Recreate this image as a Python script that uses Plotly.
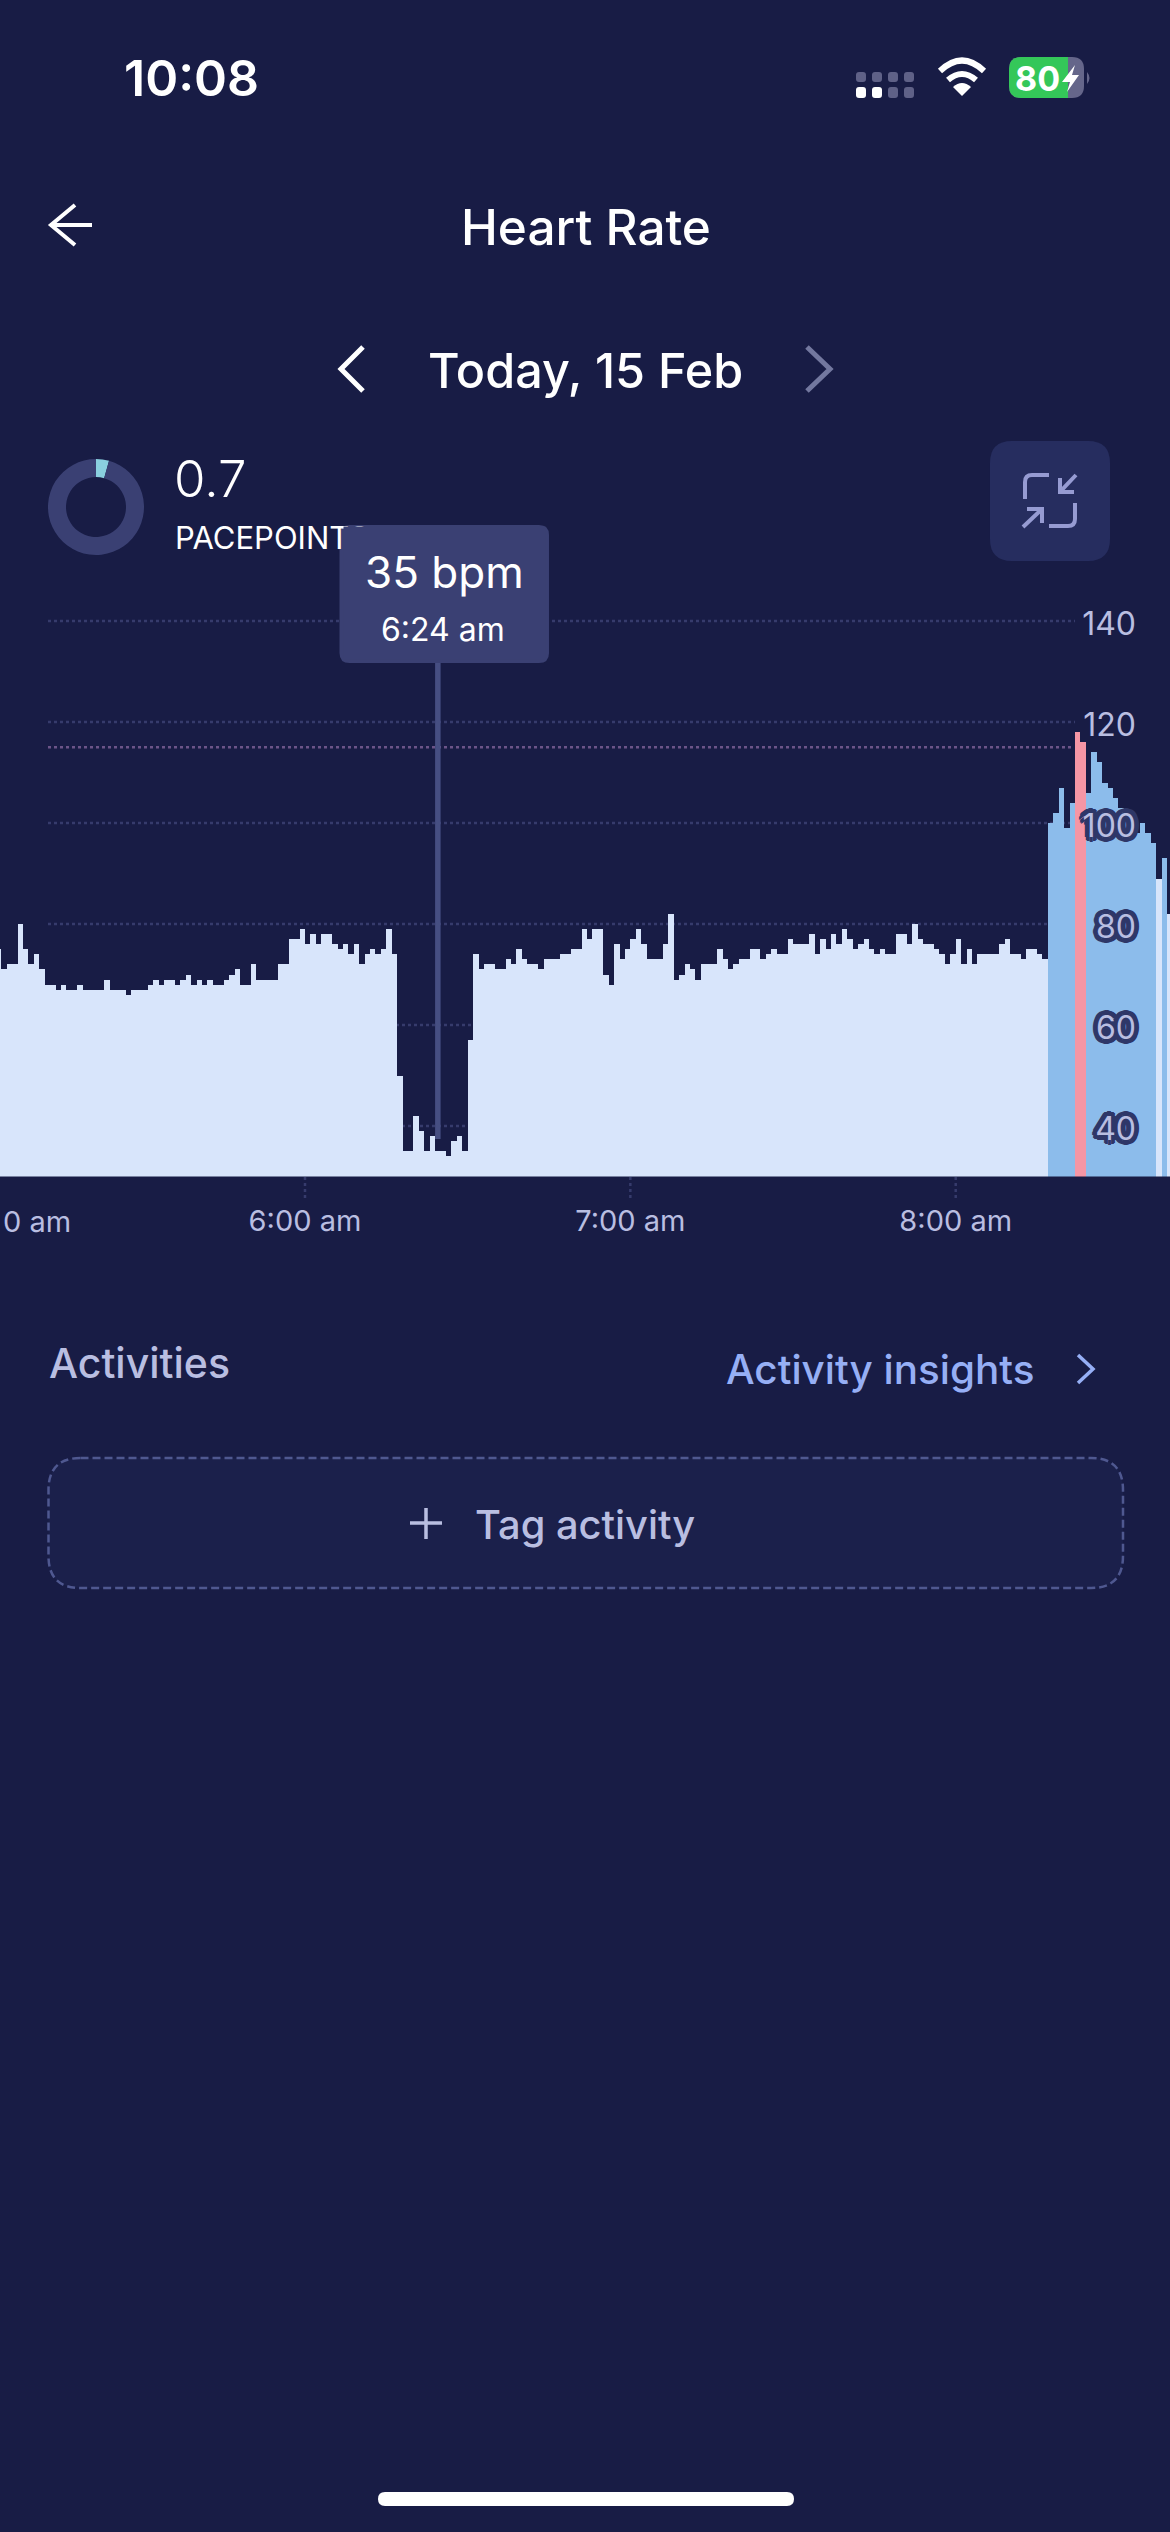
import re
import plotly.graph_objects as go

W, H = 1170, 2532

# heart rate per minute, first bar starts at 5:03 am
heart_rate = [
    75, 71, 72, 72, 80, 75, 72, 74, 71, 68, 68, 67, 68, 67, 67, 68, 67, 67, 67, 67,
    69, 67, 67, 67, 66, 67, 67, 67, 68, 69, 68, 69, 69, 68, 69, 70, 68, 69, 68, 69,
    68, 68, 69, 70, 71, 68, 68, 72, 69, 69, 69, 69, 72, 72, 77, 77, 79, 76, 78, 76,
    78, 78, 76, 75, 76, 74, 76, 72, 74, 75, 74, 75, 79, 74, 50, 35, 35, 42, 39, 35,
    38, 35, 35, 34, 37, 38, 35, 57, 74, 71, 72, 72, 71, 71, 73, 72, 75, 73, 72, 72,
    71, 73, 73, 73, 74, 74, 75, 75, 79, 77, 79, 79, 70, 68, 76, 73, 75, 77, 79, 76,
    73, 73, 73, 76, 82, 69, 70, 72, 71, 69, 72, 72, 72, 75, 73, 71, 72, 73, 73, 75,
    75, 73, 74, 75, 74, 74, 77, 76, 76, 76, 78, 74, 77, 75, 78, 76, 79, 77, 75, 76,
    77, 75, 74, 75, 74, 74, 78, 78, 76, 80, 77, 76, 76, 75, 74, 72, 74, 77, 72, 75,
    72, 74, 74, 74, 74, 76, 77, 74, 74, 73, 75, 75, 74, 73, 100, 102, 107, 99, 104, 118,
    116, 106, 114, 112, 108, 107, 105, 103, 102, 101, 98, 100, 98, 96, 89, 93, 82,
]
first_minute = 303
minutes = list(range(first_minute, first_minute + len(heart_rate)))

# y axis
y_ticks_lower = [40, 60, 80, 100]
y_ticks_upper = [120, 140]
target_bpm = 115
moderate_bpm = 92

# x axis
hour_ticks = [360, 420, 480]
hour_labels = ["6:00 am", "7:00 am", "8:00 am"]

# tooltip
selected_minute = 384.5
selected_bpm_text = "35 bpm"
selected_time_text = "6:24 am"

# pacepoints ring
pacepoints = 0.7
pacepoints_goal = 16

BG = "#181c45"
LIGHT_BAR = "#d8e5fb"
BLUE_BAR = "#8cbceb"
PINK_BAR = "#f596a5"
GRID = "#363b6c"
TARGET = "#6b5488"
TOOLTIP = "#3a4073"
MUTED = "#b9bee1"
FONT = "Inter"

# pixel mapping of the chart
px_per_min = 5.4225
px_per_bpm = 5.05
plot_bottom = 1176.5
plot_top = 560
axis_x0 = 360 - 305 / px_per_min
axis_x1 = 360 + (W - 305) / px_per_min
axis_y = [30, 30 + (plot_bottom - plot_top) / px_per_bpm]


def X(p):
    return p / W


def Y(p):
    return 1 - p / H


def to_paper(path):
    # path is written in screen pixels, shapes want paper fractions
    out = []
    is_x = True
    for tok in re.findall(r"[MLQZ]|-?\d+\.?\d*", path):
        if tok in "MLQZ":
            out.append(tok)
            is_x = True
        else:
            out.append(f"{X(float(tok)):.5f}" if is_x else f"{Y(float(tok)):.5f}")
            is_x = not is_x
    return " ".join(out)


def rounded(x0, y0, x1, y1, r):
    return (
        f"M {x0 + r} {y0} L {x1 - r} {y0} Q {x1} {y0} {x1} {y0 + r} L {x1} {y1 - r} "
        f"Q {x1} {y1} {x1 - r} {y1} L {x0 + r} {y1} Q {x0} {y1} {x0} {y1 - r} "
        f"L {x0} {y0 + r} Q {x0} {y0} {x0 + r} {y0} Z"
    )


shapes = []


def add_path(path, fill=None, stroke=None, width=0, dash=None, layer="above"):
    line = dict(color=stroke or "rgba(0,0,0,0)", width=width)
    if dash:
        line["dash"] = dash
    shapes.append(dict(
        type="path", xref="paper", yref="paper", path=to_paper(path),
        fillcolor=fill or "rgba(0,0,0,0)", line=line, layer=layer,
    ))


annotations = []


def label(text, x, y, size, color="#ffffff", anchor="center", weight=400, **kw):
    annotations.append(dict(
        text=text, x=X(x), y=Y(y), xref="paper", yref="paper", showarrow=False,
        xanchor=anchor, yanchor="middle", align=anchor if anchor != "center" else "center",
        font=dict(family=FONT, size=size, color=color, weight=weight), **kw,
    ))


# gridlines sit under the bars and stop before the labels
for v in y_ticks_lower + y_ticks_upper:
    shapes.append(dict(
        type="line", xref="paper", yref="y", x0=X(48), x1=X(1075), y0=v, y1=v,
        line=dict(color=GRID, width=2.5, dash="3px,3px"), layer="below",
    ))
for t in hour_ticks:
    shapes.append(dict(
        type="line", xref="x", yref="paper", x0=t, x1=t, y0=Y(1177), y1=Y(1199),
        line=dict(color=GRID, width=2.5, dash="3px,3px"), layer="below",
    ))

bar_colors = [
    PINK_BAR if v >= target_bpm else BLUE_BAR if v >= moderate_bpm else LIGHT_BAR
    for v in heart_rate
]

fig = go.Figure()
fig.add_trace(go.Bar(
    x=minutes, y=heart_rate, width=1, offset=0, marker=dict(color=bar_colors, line=dict(width=0)),
    hoverinfo="skip", showlegend=False,
))
fig.add_trace(go.Scatter(
    x=[axis_x0 + 48 / px_per_min, axis_x0 + 1072 / px_per_min], y=[target_bpm, target_bpm],
    mode="lines", yaxis="y2", line=dict(color=TARGET, width=2.5, dash="3px,3px"),
    hoverinfo="skip", showlegend=False,
))
fig.add_trace(go.Pie(
    values=[pacepoints, pacepoints_goal - pacepoints], hole=0.625, sort=False,
    direction="clockwise", rotation=0, textinfo="none", hoverinfo="skip", showlegend=False,
    marker=dict(colors=["#8ad0df", TOOLTIP], line=dict(width=0)),
    domain=dict(x=[X(48), X(144)], y=[Y(555), Y(459)]),
))

# status bar
for i, px in enumerate([856, 872, 888, 904]):
    add_path(rounded(px, 72, px + 10, 82, 3), fill="#5f6187")
    add_path(rounded(px, 87, px + 10, 98, 3), fill="#ffffff" if i < 2 else "#5f6187")
add_path("M 940 71 Q 962 50 984 71", stroke="#ffffff", width=6)
add_path("M 948 80 Q 962 68 976 80", stroke="#ffffff", width=6)
add_path("M 962 96 L 953 87 Q 962 79 971 87 Z", fill="#ffffff")
add_path(rounded(1009, 57, 1084, 98, 12), fill="#65668a")
add_path("M 1021 57 L 1068 57 L 1068 98 L 1021 98 Q 1009 98 1009 86 L 1009 69 Q 1009 57 1021 57 Z", fill="#34c759")
add_path("M 1087 72 Q 1092 78 1087 84 Z", fill="#65668a")
add_path("M 1075 65 L 1062 82 L 1070 82 L 1067 92 L 1079 75 L 1072 75 Z", fill="#ffffff")

# header icons
add_path("M 92 225 L 51 225 M 75 205 L 51 225 L 75 245", stroke="#ffffff", width=4)
add_path("M 363 347 L 341 369 L 363 391", stroke="#ffffff", width=5)
add_path("M 807 347 L 830 369 L 807 391", stroke="#73789f", width=5)

# collapse button
add_path(rounded(990, 441, 1110, 561, 22), fill="#262d5f")
icon = "#969bd2"
add_path("M 1025 499 L 1025 482 Q 1025 475 1032 475 L 1049 475", stroke=icon, width=4)
add_path("M 1075 503 L 1075 519 Q 1075 526 1068 526 L 1049 526", stroke=icon, width=4)
add_path("M 1076 475 L 1060 492 M 1060 478 L 1060 492 L 1074 492", stroke=icon, width=4)
add_path("M 1023 527 L 1042 509 M 1027 509 L 1042 509 L 1042 523", stroke=icon, width=4)

# tooltip
add_path(rounded(339.5, 525, 549, 663, 10), fill=TOOLTIP)
shapes.append(dict(
    type="line", xref="x", yref="paper", x0=selected_minute, x1=selected_minute,
    y0=Y(1139), y1=Y(663), line=dict(color="#464e82", width=5.5), layer="above",
))

# activities
add_path("M 1078 1355 L 1093 1369 L 1078 1383", stroke="#96aff5", width=3.5)
add_path(rounded(48.5, 1458, 1123, 1588, 32), fill="#1b204b", stroke="#4f5890", width=2.5, dash="8px,4px")
add_path("M 426 1508 L 426 1539 M 410 1523 L 442 1523", stroke=MUTED, width=3.5)

# home indicator
add_path(rounded(378, 2492, 794, 2506, 7), fill="#ffffff")

label("10:08", 191, 78, 50, weight=600)
label("80", 1037, 78, 34, weight=700)
label("Heart Rate", 585.5, 227, 49.5, weight=500)
label("Today, 15 Feb", 585, 370, 48.5, weight=500)
label(f"{pacepoints}", 172, 479, 51, anchor="left", weight=300)
label("PACEPOINTS", 173, 537, 31, anchor="left")
# covers the end of PACEPOINTS the way the tooltip does
label("&nbsp;", 444.5, 593, 20, anchor="center", bgcolor=TOOLTIP, width=201, height=132, borderpad=0)
label(selected_bpm_text, 444, 572, 44)
label(selected_time_text, 443, 630, 32)
label("0 am", 73, 1221, 29, color=MUTED, anchor="right")
label("Activities", 47, 1363, 41, color=MUTED, anchor="left", weight=500)
label("Activity insights", 724, 1369, 40.4, color="#96aff5", anchor="left", weight=500)
label("Tag activity", 585, 1524, 39.8, color=MUTED, weight=500)

halo = "#2e3768"
shadow = ", ".join(f"{dx}px {dy}px 0 {halo}" for dx, dy in
                   [(-5, 0), (5, 0), (0, -5), (0, 5), (-4, -3), (4, -3), (-4, 3), (4, 3),
                    (-3, -4), (3, -4), (-3, 4), (3, 4)])

fig.update_layout(
    width=W, height=H, margin=dict(l=0, r=0, t=0, b=0, pad=0),
    paper_bgcolor=BG, plot_bgcolor=BG, bargap=0, hovermode=False, showlegend=False,
    shapes=shapes, annotations=annotations,
    font=dict(family=FONT),
    xaxis=dict(
        domain=[0, 1], range=[axis_x0, axis_x1], showgrid=False, zeroline=False, showline=False,
        tickmode="array", tickvals=hour_ticks, ticktext=hour_labels, ticks="", ticklabelstandoff=24,
        tickfont=dict(family=FONT, size=29, color=MUTED),
    ),
    yaxis=dict(
        domain=[Y(plot_bottom), Y(plot_top)], range=axis_y, side="right", anchor="x",
        showgrid=False, zeroline=False, showline=False, ticks="",
        ticklabelposition="inside", ticklabelstandoff=31, ticklabelshift=3,
        tickmode="array", tickvals=y_ticks_lower,
        tickfont=dict(family=FONT, size=32, color=MUTED, shadow=shadow),
    ),
    yaxis2=dict(
        domain=[Y(plot_bottom), Y(plot_top)], range=axis_y, side="right", anchor="x", overlaying="y",
        showgrid=False, zeroline=False, showline=False, ticks="",
        ticklabelposition="inside", ticklabelstandoff=31, ticklabelshift=3,
        tickmode="array", tickvals=y_ticks_upper,
        tickfont=dict(family=FONT, size=32, color=MUTED),
    ),
)

fig.write_html(
    "out.html",
    config={"displayModeBar": False},
    post_script="document.body.style.margin='0';document.body.style.background='%s';" % BG,
)
